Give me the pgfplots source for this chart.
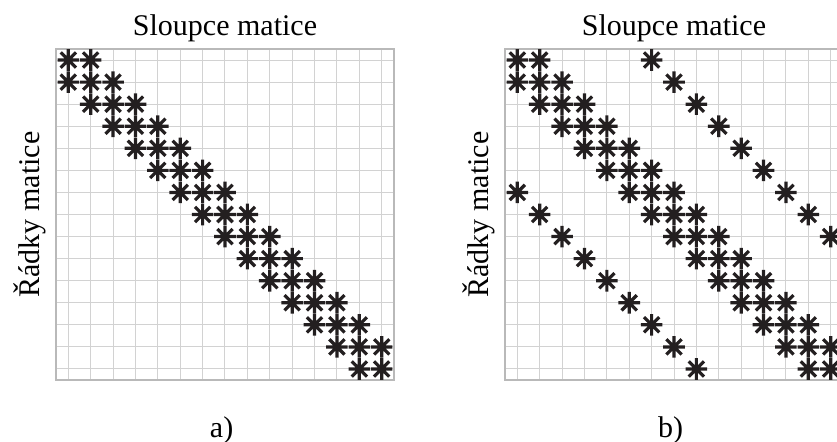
\documentclass[border=0pt]{standalone}
\usepackage{pgfplots}
\pgfplotsset{compat=1.18}
\usepackage{fontspec}
\setmainfont{Liberation Serif}
\definecolor{ink}{HTML}{231F20}

\pgfdeclareplotmark{star8}{%
  \pgfpathmoveto{\pgfqpoint{0pt}{-\pgfplotmarksize}}\pgfpathlineto{\pgfqpoint{0pt}{\pgfplotmarksize}}%
  \pgfpathmoveto{\pgfqpoint{-\pgfplotmarksize}{0pt}}\pgfpathlineto{\pgfqpoint{\pgfplotmarksize}{0pt}}%
  \pgfpathmoveto{\pgfpointpolar{225}{\pgfplotmarksize}}\pgfpathlineto{\pgfpointpolar{45}{\pgfplotmarksize}}%
  \pgfpathmoveto{\pgfpointpolar{315}{\pgfplotmarksize}}\pgfpathlineto{\pgfpointpolar{135}{\pgfplotmarksize}}%
  \pgfusepathqstroke}

\pgfplotsset{
  mat/.style={
    width=169pt, height=165.5pt, scale only axis,
    xmin=0.45, xmax=15.55, ymin=0.5, ymax=15.5, y dir=reverse,
    xtick={1,...,15}, ytick={1,...,15},
    xticklabels={}, yticklabels={},
    major tick length=0pt,
    grid=major,
    grid style={draw=gray!35, line width=0.5pt},
    axis line style={draw=gray!55, line width=0.6pt},
    font=\fontsize{15}{18}\selectfont,
    title={Sloupce matice},
    title style={at={(axis description cs:0.5,1)}, anchor=base, yshift=1pt, font=\fontsize{15}{18}\selectfont},
    ylabel={Řádky matice},
    ylabel style={at={(axis description cs:-0.049,0.5)}, anchor=base, font=\fontsize{15}{18}\selectfont},
    xlabel style={at={(axis description cs:0.49,-0.1722)}, anchor=base, font=\fontsize{15}{18}\selectfont},
  },
  stars/.style={only marks, mark=star8, mark size=5.4pt, color=ink,
    mark options={line width=1.6pt}},
}

\begin{document}
\begin{tikzpicture}
\begin{axis}[mat, at={(28pt,30.5pt)}, anchor=south west, xlabel={a)}]
\addplot[stars] coordinates {
(1,1)(2,1)
(1,2)(2,2)(3,2)
(2,3)(3,3)(4,3)
(3,4)(4,4)(5,4)
(4,5)(5,5)(6,5)
(5,6)(6,6)(7,6)
(6,7)(7,7)(8,7)
(7,8)(8,8)(9,8)
(8,9)(9,9)(10,9)
(9,10)(10,10)(11,10)
(10,11)(11,11)(12,11)
(11,12)(12,12)(13,12)
(12,13)(13,13)(14,13)
(13,14)(14,14)(15,14)
(14,15)(15,15)
};
\end{axis}
\begin{axis}[mat, at={(252.5pt,30.5pt)}, anchor=south west, xlabel={b)}]
\addplot[stars] coordinates {
(1,1)(2,1)
(1,2)(2,2)(3,2)
(2,3)(3,3)(4,3)
(3,4)(4,4)(5,4)
(4,5)(5,5)(6,5)
(5,6)(6,6)(7,6)
(6,7)(7,7)(8,7)
(7,8)(8,8)(9,8)
(8,9)(9,9)(10,9)
(9,10)(10,10)(11,10)
(10,11)(11,11)(12,11)
(11,12)(12,12)(13,12)
(12,13)(13,13)(14,13)
(13,14)(14,14)(15,14)
(14,15)(15,15)
};
\addplot[stars] coordinates {
(7,1)(8,2)(9,3)(10,4)(11,5)(12,6)(13,7)(14,8)(15,9)
};
\addplot[stars] coordinates {
(1,7)(2,8)(3,9)(4,10)(5,11)(6,12)(7,13)(8,14)(9,15)
};
\end{axis}
\pgfresetboundingbox
\path[use as bounding box] (0,0) rectangle (418.5pt,220.5pt);
\end{tikzpicture}
\end{document}
